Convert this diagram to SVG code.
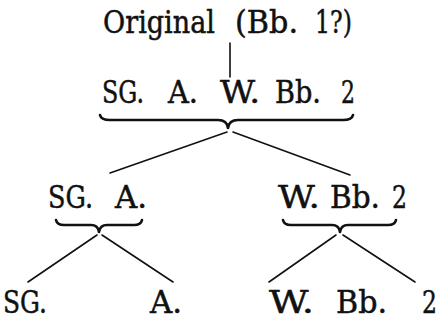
<svg xmlns="http://www.w3.org/2000/svg" width="442" height="322" viewBox="0 0 442 322">
<style>
text{font-family:"DejaVu Serif","Liberation Serif",serif;font-size:31px;fill:#111;stroke:#111;stroke-width:0.5}
.ln{stroke:#111;stroke-width:1.6;fill:none;stroke-linecap:round}
.br{stroke:#111;stroke-width:2.6;fill:none;stroke-linecap:round;stroke-linejoin:round}
</style>
<rect width="442" height="322" fill="#fff"/>
<g id="node-original">
<text x="103" y="33" textLength="112" lengthAdjust="spacingAndGlyphs">Original</text>
<text x="235" y="33" textLength="63" lengthAdjust="spacingAndGlyphs">(Bb.</text>
<text x="315" y="33" textLength="37" lengthAdjust="spacingAndGlyphs">1?)</text>
</g>
<g id="node-sg-a-w-bb2">
<text x="102" y="103" textLength="42" lengthAdjust="spacingAndGlyphs">SG.</text>
<text x="168" y="103" textLength="30" lengthAdjust="spacingAndGlyphs">A.</text>
<text x="220" y="103" textLength="40" lengthAdjust="spacingAndGlyphs">W.</text>
<text x="275" y="103" textLength="46" lengthAdjust="spacingAndGlyphs">Bb.</text>
<text x="341" y="103" textLength="14" lengthAdjust="spacingAndGlyphs">2</text>
</g>
<g id="node-sg-a">
<text x="48" y="208" textLength="45" lengthAdjust="spacingAndGlyphs">SG.</text>
<text x="115" y="208" textLength="32" lengthAdjust="spacingAndGlyphs">A.</text>
</g>
<g id="node-w-bb2">
<text x="278" y="208" textLength="42" lengthAdjust="spacingAndGlyphs">W.</text>
<text x="330" y="208" textLength="50" lengthAdjust="spacingAndGlyphs">Bb.</text>
<text x="392" y="208" textLength="15" lengthAdjust="spacingAndGlyphs">2</text>
</g>
<g id="node-sg"><text x="3" y="313" textLength="44" lengthAdjust="spacingAndGlyphs">SG.</text></g>
<g id="node-a"><text x="150" y="313" textLength="32" lengthAdjust="spacingAndGlyphs">A.</text></g>
<g id="node-w"><text x="269" y="313" textLength="45" lengthAdjust="spacingAndGlyphs">W.</text></g>
<g id="node-bb2">
<text x="336" y="313" textLength="51" lengthAdjust="spacingAndGlyphs">Bb.</text>
<text x="422" y="313" textLength="15" lengthAdjust="spacingAndGlyphs">2</text>
</g>
<g id="connectors">
<line class="ln" x1="230" y1="43" x2="230" y2="77"/>
<path class="br" d="M100,115 Q101,120 110,120 L218,120 Q227,120 228,128 Q229,120 238,120 L343,120 Q352,120 353,115"/>
<line class="ln" x1="227" y1="132" x2="110" y2="173"/>
<line class="ln" x1="233" y1="132" x2="350" y2="175"/>
<path class="br" d="M56,220 Q57,225 64,225 L91,225 Q98,225 99,232 Q100,225 107,225 L134,225 Q141,225 142,220"/>
<path class="br" d="M283,220 Q284,225 291,225 L332,225 Q339,225 340,232 Q341,225 348,225 L388,225 Q395,225 396,220"/>
<line class="ln" x1="97" y1="235" x2="28" y2="282"/>
<line class="ln" x1="102" y1="235" x2="173" y2="282"/>
<line class="ln" x1="336" y1="235" x2="269" y2="282"/>
<line class="ln" x1="343" y1="235" x2="415" y2="282"/>
</g>
</svg>
